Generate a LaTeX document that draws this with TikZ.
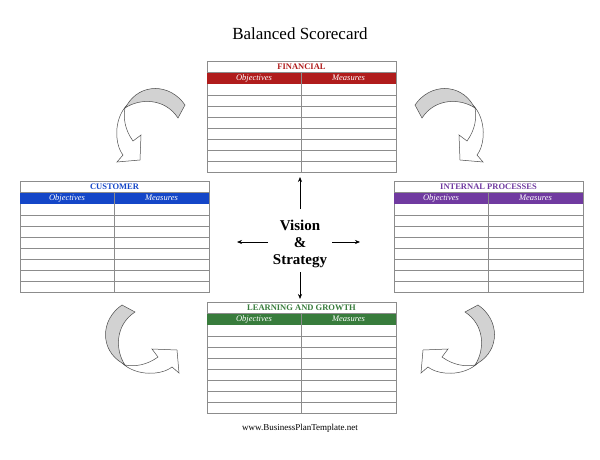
\documentclass[tikz,border=0pt]{standalone}
\usepackage{fontspec}
\setmainfont{Liberation Serif}
\usetikzlibrary{arrows.meta}
\definecolor{fin}{RGB}{176,28,28}
\definecolor{cus}{RGB}{20,70,200}
\definecolor{ipr}{RGB}{112,58,160}
\definecolor{lrn}{RGB}{56,124,60}
\definecolor{arrgray}{RGB}{210,210,210}
\tikzset{
  grid/.style={draw=black!45,line width=0.5pt},
  tcap/.style={font=\bfseries\fontsize{8.5}{9}\selectfont,anchor=center},
  hdr/.style={font=\itshape\fontsize{8.5}{9}\selectfont,text=white,anchor=center},
  bigarrow/.style={draw=black!70,line width=0.5pt},
  cross/.style={-{Stealth[length=5pt,width=4pt]},line width=0.6pt}
}
\newcommand\bsctable[5]{%
  \begin{scope}[shift={(#1,#2)}]
    \node[draw=black!45,line width=0.5pt,minimum width=189pt,minimum height=111pt,anchor=north west,inner sep=0] (#5) at (0,0) {};
    \fill[#3] (0,11) rectangle (189,23);
    \node[tcap,text=#3] at (94.5,5.5) {#4};
    \node[hdr] at (47,17.2) {Objectives};
    \node[hdr] at (141.5,17.2) {Measures};
    \foreach \r in {1,...,7} {\draw[grid] (0,23+11*\r) -- (189,23+11*\r);}
    \draw[grid] (94,11) -- (94,111);
    \draw[grid] (0,11) -- (189,11);
  \end{scope}}
\newcommand\bscarrow{%
  \fill[white] (-23,-20) .. controls (-37,-5) and (-35,20) .. (-27,30) -- (-33,37) -- (-10,35) -- (-9,10) -- (-17,16) .. controls (-25,5) and (-27,-7) .. (-25,-17) -- cycle;
  \draw[bigarrow] (-23,-20) .. controls (-37,-5) and (-35,20) .. (-27,30) -- (-33,37) -- (-10,35) -- (-9,10) -- (-17,16) .. controls (-25,5) and (-27,-7) .. (-25,-17);
  \filldraw[bigarrow,fill=arrgray] (-23,-20) .. controls (-10,-42) and (20,-42) .. (35,-20) -- (28,-7) .. controls (15,-27) and (-10,-27) .. (-25,-17) -- cycle;}
\begin{document}
\begin{tikzpicture}[x=1pt,y=-1pt]
\useasboundingbox (0,0) rectangle (600,460);
\fill[white] (0,0) rectangle (600,460);
\node[font=\fontsize{17}{20}\selectfont] (title) at (300,34) {Balanced Scorecard};
\bsctable{207}{61}{fin}{FINANCIAL}{tfin}
\bsctable{20}{181}{cus}{CUSTOMER}{tcus}
\bsctable{394}{181}{ipr}{INTERNAL PROCESSES}{tipr}
\bsctable{207}{302}{lrn}{LEARNING AND GROWTH}{tlrn}
\node[font=\bfseries\fontsize{15}{18}\selectfont,align=center,inner sep=1pt] (vs) at (300,244) {Vision\\[-1pt]\&\\[-1pt]Strategy};
\coordinate (up) at (300,177);
\coordinate (dn) at (300,299);
\coordinate (lf) at (237,242);
\coordinate (rt) at (360,242);
\draw[cross] (300,209) -- (up);
\draw[cross] (300,272) -- (dn);
\draw[cross] (268,242) -- (lf);
\draw[cross] (332,242) -- (rt);
\begin{scope}[shift={(150,125)}]\bscarrow\end{scope}
\begin{scope}[shift={(450,125)},xscale=-1]\bscarrow\end{scope}
\begin{scope}[shift={(142,340)},rotate=90]\bscarrow\end{scope}
\begin{scope}[shift={(458,340)},xscale=-1,rotate=90]\bscarrow\end{scope}
\node[font=\fontsize{9}{11}\selectfont] (web) at (300,428) {www.BusinessPlanTemplate.net};
\end{tikzpicture}
\end{document}
